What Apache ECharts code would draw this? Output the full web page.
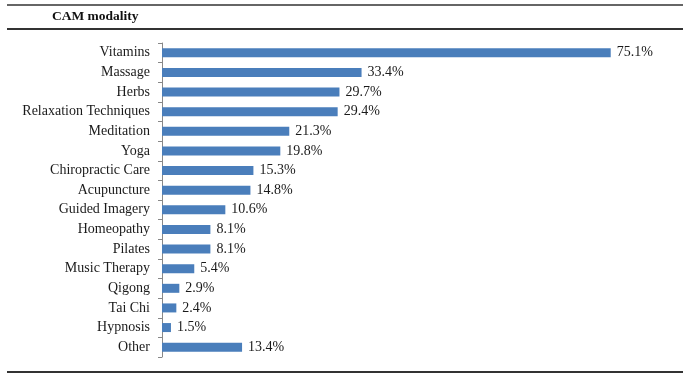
<!DOCTYPE html>
<html>
<head>
<meta charset="utf-8">
<script src="https://cdn.jsdelivr.net/npm/echarts@6/dist/echarts.min.js"></script>
<style>
    html, body { margin: 0; padding: 0; background: #fff; }
    #chart { width: 683px; height: 378px; }
</style>
</head>
<body>
<div id="chart"></div>
<script>
    var categories = ['Vitamins', 'Massage', 'Herbs', 'Relaxation Techniques', 'Meditation', 'Yoga',
        'Chiropractic Care', 'Acupuncture', 'Guided Imagery', 'Homeopathy', 'Pilates',
        'Music Therapy', 'Qigong', 'Tai Chi', 'Hypnosis', 'Other'];
    var percentages = [75.1, 33.4, 29.7, 29.4, 21.3, 19.8, 15.3, 14.8, 10.6, 8.1, 8.1, 5.4, 2.9, 2.4, 1.5, 13.4];
    var headerTitle = 'CAM modality';

    var serif = '"Liberation Serif", "DejaVu Serif", serif';

    var chart = echarts.init(document.getElementById('chart'));
    var option = {
        animation: false,
        textStyle: { fontFamily: serif },
        graphic: [
            { type: 'line', shape: { x1: 7, y1: 5, x2: 683, y2: 5 }, style: { stroke: '#333', lineWidth: 1.5 } },
            { type: 'text', left: 52, top: 10, style: { text: headerTitle, font: 'bold 13.5px ' + serif, fill: '#111' } },
            { type: 'line', shape: { x1: 7, y1: 29, x2: 683, y2: 29 }, style: { stroke: '#333', lineWidth: 2 } },
            { type: 'line', shape: { x1: 7, y1: 372, x2: 683, y2: 372 }, style: { stroke: '#333', lineWidth: 2 } }
        ],
        grid: { left: 162, right: 43, top: 43, bottom: 21 },
        xAxis: {
            type: 'value',
            min: 0,
            max: 80,
            show: false
        },
        yAxis: {
            type: 'category',
            inverse: true,
            data: categories,
            axisLine: { lineStyle: { color: '#888', width: 1 } },
            axisTick: { show: true, length: 4, lineStyle: { color: '#888' } },
            axisLabel: { color: '#1a1a1a', fontSize: 14, fontFamily: serif, margin: 12 }
        },
        series: [{
            type: 'bar',
            data: percentages,
            barWidth: 9,
            itemStyle: { color: '#4a7ebb' },
            label: {
                show: true,
                position: 'right',
                distance: 6,
                color: '#1a1a1a',
                fontSize: 14,
                fontFamily: serif,
                formatter: function (p) { return p.value.toFixed(1) + '%'; }
            }
        }]
    };
    chart.setOption(option);
</script>
</body>
</html>
